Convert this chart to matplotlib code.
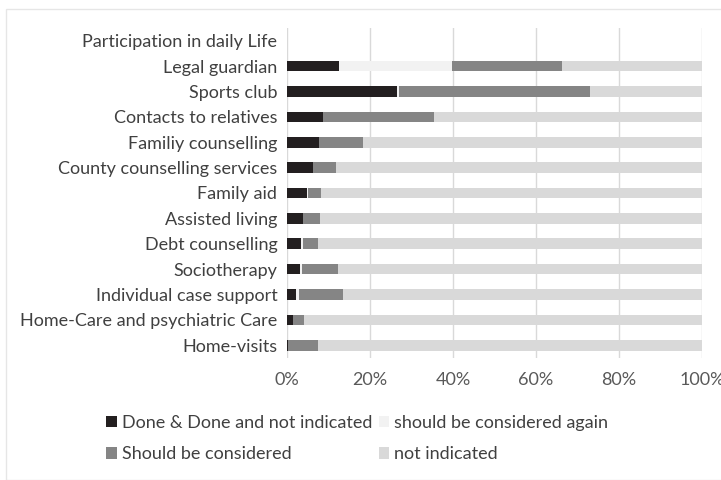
import matplotlib
matplotlib.use("Agg")
import matplotlib.pyplot as plt
from matplotlib.patches import Rectangle
from matplotlib.ticker import PercentFormatter

plt.rcParams['font.family'] = ['Lato', 'DejaVu Sans']

categories = ["Participation in daily Life", "Legal guardian", "Sports club",
              "Contacts to relatives", "Familiy counselling",
              "County counselling services", "Family aid", "Assisted living",
              "Debt counselling", "Sociotherapy", "Individual case support",
              "Home-Care and psychiatric Care", "Home-visits"]

done = [0, 12.6, 26.6, 8.7, 7.6, 6.3, 4.7, 3.8, 3.4, 3.1, 2.2, 1.5, 0.2]
again = [0, 27.2, 0.5, 0, 0, 0, 0.3, 0, 0.4, 0.5, 0.6, 0, 0]
considered = [0, 26.5, 45.8, 26.7, 10.6, 5.6, 3.1, 4.1, 3.7, 8.6, 10.6, 2.6, 7.3]
legend_labels = ["Done & Done and not indicated", "should be considered again",
                 "Should be considered", "not indicated"]
colors = ["#231f20", "#f2f2f2", "#858585", "#d9d9d9"]

not_ind = []
for i in range(len(categories)):
    if i == 0:
        not_ind.append(0)
    else:
        not_ind.append(100 - done[i] - again[i] - considered[i])

fig = plt.figure(figsize=(7.21, 4.80), dpi=100)
ax = fig.add_axes([287 / 721, 1 - 358 / 480, 415 / 721, 330 / 480])

y = list(range(len(categories)))
left = [0] * len(categories)
bars = []
for vals, c, lab in zip([done, again, considered, not_ind], colors, legend_labels):
    b = ax.barh(y, vals, left=left, height=0.42, color=c, label=lab, zorder=3)
    bars.append(b)
    left = [l + v for l, v in zip(left, vals)]

ax.set_ylim(len(categories) - 0.5, -0.5)
ax.set_xlim(0, 100)
ax.set_xticks([0, 20, 40, 60, 80, 100])
ax.xaxis.set_major_formatter(PercentFormatter(decimals=0))
ax.set_yticks(y)
ax.set_yticklabels(categories)
ax.grid(axis='x', color="#d9d9d9", linewidth=1, zorder=0)
for s in ax.spines.values():
    s.set_visible(False)
ax.tick_params(axis='both', length=0, labelsize=13, colors="#404040")
ax.tick_params(axis='x', pad=10, colors="#595959")
ax.tick_params(axis='y', pad=7)

# matplotlib fills legend columns first, so reorder to get the row layout
order = [0, 2, 1, 3]
leg = fig.legend(handles=[bars[i] for i in order],
                 labels=[legend_labels[i] for i in order], ncol=2,
                 loc='upper left', bbox_to_anchor=(106 / 721, 1 - 415 / 480),
                 frameon=False, fontsize=13, handlelength=0.6, handleheight=0.6,
                 handletextpad=0.28, columnspacing=0.35, labelspacing=0.85,
                 borderpad=0, borderaxespad=0)
for t in leg.get_texts():
    t.set_color("#404040")

fig.patches.append(Rectangle((6 / 721, 0.0), 1.0, 1 - 9 / 480, transform=fig.transFigure,
                             fill=False, edgecolor="#e6e6e6", linewidth=1))

fig.savefig("out.png", dpi=100)
